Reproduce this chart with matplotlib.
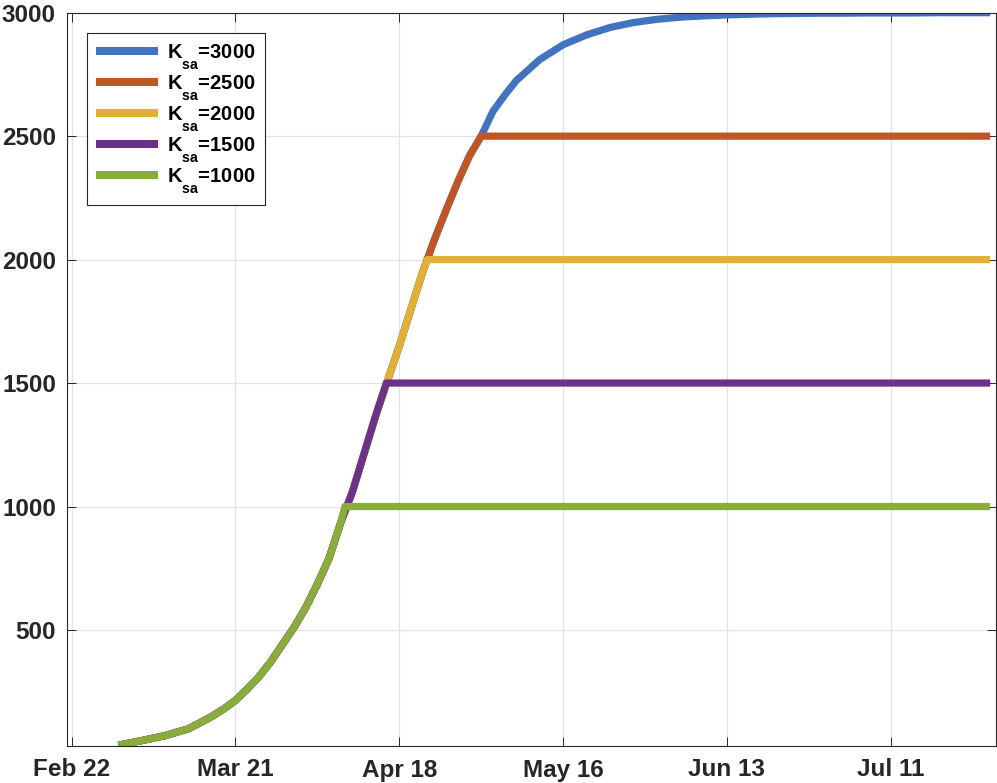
import numpy as np
import matplotlib
matplotlib.use("Agg")
import matplotlib.pyplot as plt
import matplotlib.dates as mdates
from matplotlib import _mathtext

# days since 2020-03-01 and the uncapped curve (K_sa = 3000)
days = [0, 4, 8, 12, 16, 18, 20, 22, 24, 26, 28, 30, 32, 34, 36, 38, 40, 42, 44,
        46, 48, 50, 52, 54, 56, 58, 60, 62, 64, 66, 68, 72, 76, 80, 84, 88, 92,
        96, 100, 104, 108, 112, 116, 120, 124, 128, 132, 136, 140, 144, 148, 149]
base = [33, 52, 72, 100, 150, 180, 215, 260, 310, 370, 440, 510, 590, 685, 790,
        935, 1060, 1215, 1370, 1510, 1650, 1800, 1950, 2080, 2200, 2315, 2420,
        2500, 2600, 2665, 2725, 2810, 2870, 2910, 2940, 2960, 2973, 2982, 2987,
        2991, 2994, 2996, 2997, 2998, 2998, 2999, 2999, 2999, 3000, 3000, 3000, 3000]

caps = [2500, 2000, 1500, 1000]
cap_days = [62.0, 52.8, 45.8, 38.7]   # where each capped curve goes flat

labels = ['3000', '2500', '2000', '1500', '1000']
colors = ['#4173BE', '#BF5627', '#E0B136', '#6D318A', '#88AD3C']

tick_dates = ['2020-02-22', '2020-03-21', '2020-04-18', '2020-05-16',
              '2020-06-13', '2020-07-11']
yticks = [500, 1000, 1500, 2000, 2500, 3000]

plt.rcParams['font.family'] = ['Liberation Sans', 'DejaVu Sans']
plt.rcParams['mathtext.fontset'] = 'custom'
plt.rcParams['mathtext.rm'] = 'Liberation Sans'
plt.rcParams['mathtext.bf'] = 'Liberation Sans:bold'
# matlab drops the subscript further than mathtext does
_mathtext.FontConstantsBase.sub1 = 1.05
_mathtext.FontConstantsBase.subdrop = 0.6

t0 = mdates.date2num(np.datetime64('2020-03-01'))


def capped(cap, corner):
    x = [d for d in days if d < corner] + [corner]
    y = [v for d, v in zip(days, base) if d < corner] + [cap]
    rest = [d for d in days if d > corner]
    return x + rest, y + [cap] * len(rest)


fig = plt.figure(figsize=(9.97, 7.83), dpi=100)
ax = fig.add_axes([67 / 997, 37 / 783, 929 / 997, 733.3 / 783])

series = [(days, base)] + [capped(c, d) for c, d in zip(caps, cap_days)]
for (x, y), lab, col in zip(series, labels, colors):
    ax.plot(t0 + np.array(x), y, color=col, lw=5.2, solid_joinstyle='round',
            solid_capstyle='butt', label=r'$\mathbf{K_{sa}}$=' + lab)

ax.set_xlim(mdates.date2num(np.datetime64('2020-02-21T05:00')),
            mdates.date2num(np.datetime64('2020-07-29T00:00')))
ax.set_ylim(30, 3000)
ax.set_xticks([mdates.date2num(np.datetime64(d)) for d in tick_dates])
ax.xaxis.set_major_formatter(mdates.DateFormatter('%b %d'))
ax.set_yticks(yticks)

ax.grid(True, color='#e3e3e3', lw=0.9)
ax.set_axisbelow(True)
for s in ax.spines.values():
    s.set_color('#262626')
    s.set_linewidth(0.8)
ax.tick_params(direction='in', length=6.7, width=0.7, color='#262626',
               top=True, right=True, labelsize=17.5, labelcolor='#262626')
ax.tick_params(axis='x', pad=9)
ax.tick_params(axis='y', pad=8)
for lbl in ax.get_xticklabels() + ax.get_yticklabels():
    lbl.set_fontweight('bold')

leg = ax.legend(loc='upper left', bbox_to_anchor=(0.0215, 0.972), borderaxespad=0,
                fancybox=False, edgecolor='#262626', framealpha=1,
                prop={'weight': 'bold', 'size': 14.5}, handlelength=3.1,
                handletextpad=0.42, labelspacing=0.07, borderpad=0.45)
leg.get_frame().set_linewidth(0.8)
for h in leg.legend_handles:
    h.set_linewidth(5.8)

fig.savefig('out.png', dpi=100)
